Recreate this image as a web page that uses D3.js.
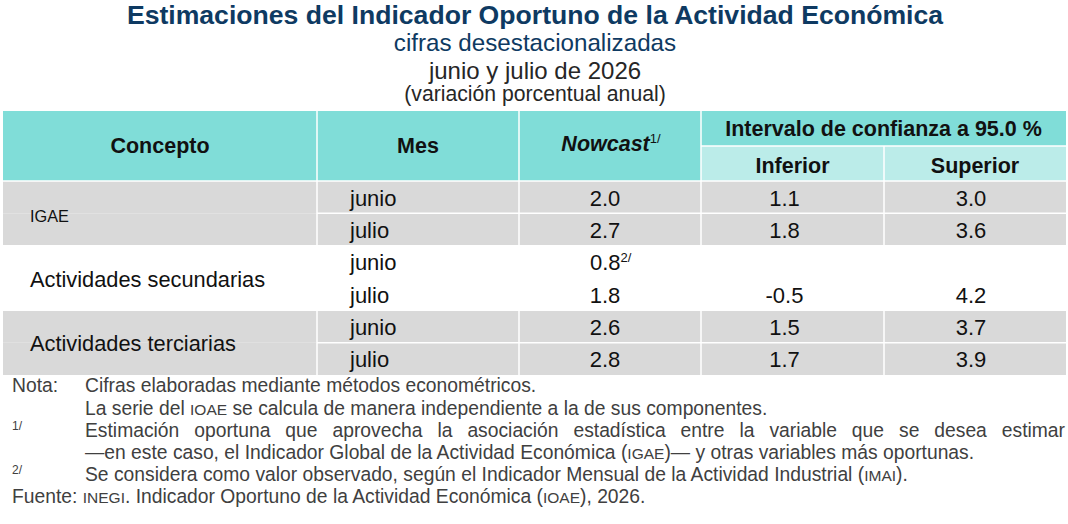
<!DOCTYPE html>
<html>
<head>
<meta charset="utf-8">
<script src="https://cdn.jsdelivr.net/npm/d3@7"></script>
<style>
  body { margin: 0; background: #fff; }
  svg { display: block; font-family: "Liberation Sans", Arial, sans-serif; }
</style>
</head>
<body>
<div id="chart"></div>
<script>
// --- data ---
const titleLines = [
  "Estimaciones del Indicador Oportuno de la Actividad Económica",
  "cifras desestacionalizadas",
  "junio y julio de 2026",
  "(variación porcentual anual)"
];
const concepts = ["IGAE", "Actividades secundarias", "Actividades terciarias"];
const months = ["junio", "julio"];
const nowcast = [2.0, 2.7, 0.8, 1.8, 2.6, 2.8];
const nowcastNote = ["", "", "2/", "", "", ""];
const lower = [1.1, 1.8, null, -0.5, 1.5, 1.7];
const upper = [3.0, 3.6, null, 4.2, 3.7, 3.9];

// --- layout ---
const W = 1068, H = 524;
const colEdges = [3, 317, 519, 701, 884, 1066];
const headTop = 111, headMid = 146, headBot = 181, tableBot = 375;
const teal = "#80ddd8", tealLight = "#bbece9", grey = "#d9d9d9";
const navy = "#0e3a62";

const svg = d3.select("#chart").append("svg")
  .attr("width", W).attr("height", H);

// titles
const titleY = [24, 51, 79, 101];
const titleSize = [26.6, 24.2, 24, 21.2];
svg.selectAll("text.title")
  .data(titleLines)
  .enter().append("text")
  .attr("class", "title")
  .attr("x", 535)
  .attr("y", (d, i) => titleY[i])
  .attr("text-anchor", "middle")
  .attr("font-size", (d, i) => titleSize[i])
  .attr("font-weight", (d, i) => i === 0 ? "bold" : "normal")
  .attr("fill", (d, i) => i < 2 ? navy : "#262626")
  .text(d => d);

// header
const head = svg.append("g");
head.append("rect").attr("x", colEdges[0]).attr("y", headTop)
  .attr("width", colEdges[5] - colEdges[0]).attr("height", headBot - headTop)
  .attr("fill", teal);
head.append("rect").attr("x", colEdges[3]).attr("y", headMid)
  .attr("width", colEdges[5] - colEdges[3]).attr("height", headBot - headMid)
  .attr("fill", tealLight);

const hx = i => (colEdges[i] + colEdges[i + 1]) / 2;
const hText = (x, y, t) => head.append("text").attr("x", x).attr("y", y)
  .attr("text-anchor", "middle").attr("font-size", 21.5).attr("font-weight", "bold")
  .attr("fill", "#111").text(t);
hText(hx(0), 153, "Concepto");
hText(hx(1), 153, "Mes");
const nc = hText(hx(2) + 1, 151, "");
nc.append("tspan").attr("font-style", "italic").text("Nowcast");
nc.append("tspan").attr("font-size", 13).attr("dy", -8).attr("font-weight", "normal").text("1/");
hText((colEdges[3] + colEdges[5]) / 2, 136, "Intervalo de confianza a 95.0 %");
hText(hx(3), 172.5, "Inferior");
hText(hx(4), 172.5, "Superior");

// rows
const rowIdx = d3.range(nowcast.length);
const y = d3.scaleBand().domain(rowIdx).range([headBot, tableBot]);
const body = svg.append("g");

body.selectAll("rect.row")
  .data(rowIdx)
  .enter().append("rect")
  .attr("x", colEdges[0]).attr("y", d => y(d))
  .attr("width", colEdges[5] - colEdges[0]).attr("height", y.bandwidth())
  .attr("fill", d => Math.floor(d / 2) === 1 ? "#fff" : grey);

// white grid lines
body.selectAll("line.h")
  .data(rowIdx.slice(1))
  .enter().append("line")
  .attr("x1", d => d % 2 === 0 ? colEdges[0] : colEdges[1]).attr("x2", colEdges[5])
  .attr("y1", d => y(d)).attr("y2", d => y(d))
  .attr("stroke", "#fff").attr("stroke-width", 1.5);
svg.append("line").attr("x1", colEdges[0]).attr("x2", colEdges[5])
  .attr("y1", headBot).attr("y2", headBot).attr("stroke", "#fff").attr("stroke-width", 1.5);
svg.append("line").attr("x1", colEdges[3]).attr("x2", colEdges[5])
  .attr("y1", headMid).attr("y2", headMid).attr("stroke", "#fff").attr("stroke-width", 1.5);
svg.selectAll("line.v")
  .data([1, 2, 3, 4])
  .enter().append("line")
  .attr("x1", d => colEdges[d]).attr("x2", d => colEdges[d])
  .attr("y1", d => d === 4 ? headMid : headTop).attr("y2", tableBot)
  .attr("stroke", "#fff").attr("stroke-width", 1.5);

// concept labels
body.selectAll("text.concept")
  .data(concepts)
  .enter().append("text")
  .attr("x", 30)
  .attr("y", (d, i) => y(i * 2) + y.bandwidth() + 8.5)
  .attr("font-size", (d, i) => i === 0 ? 16.3 : 21.8)
  .attr("fill", "#111")
  .text(d => d);

// month labels
body.selectAll("text.month")
  .data(rowIdx)
  .enter().append("text")
  .attr("x", 350)
  .attr("y", d => y(d) + y.bandwidth() / 2 + 8.5)
  .attr("font-size", 22).attr("fill", "#111")
  .text(d => months[d % 2]);

const fmt = v => v.toFixed(1);
const numCol = (vals, ci, dx) => body.selectAll(null)
  .data(rowIdx.filter(i => vals[i] !== null))
  .enter().append("text")
  .attr("x", hx(ci) + dx)
  .attr("y", d => y(d) + y.bandwidth() / 2 + 8.5)
  .attr("text-anchor", "middle")
  .attr("font-size", 22).attr("fill", "#111")
  .text(d => fmt(vals[d]));
numCol(nowcast, 2, -5).each(function(d) {
  if (nowcastNote[d]) {
    d3.select(this).attr("text-anchor", "start").attr("x", hx(2) - 20);
    d3.select(this).append("tspan").attr("font-size", 13).attr("dy", -8).text(nowcastNote[d]);
  }
});
numCol(lower, 3, -8);
numCol(upper, 4, -4);

// notes
const notes = svg.append("g").attr("font-size", 19.3).attr("fill", "#404040");
const noteY = [392, 414.5, 437, 459, 481, 503];
const addLine = (x, yy, parts) => {
  const t = notes.append("text").attr("x", x).attr("y", yy);
  parts.forEach(p => {
    const s = t.append("tspan").text(p[0]);
    if (p[1]) s.attr("font-size", 15.5);
  });
  return t;
};
addLine(12, noteY[0], [["Nota:"]]);
addLine(85, noteY[0], [["Cifras elaboradas mediante métodos econométricos."]]);
addLine(85, noteY[1], [["La serie del "], ["IOAE", 1], [" se calcula de manera independiente a la de sus componentes."]]);
notes.append("text").attr("x", 12).attr("y", noteY[2] - 7).attr("font-size", 12).text("1/");
const just = addLine(85, noteY[2], [["Estimación oportuna que aprovecha la asociación estadística entre la variable que se desea estimar"]]);
const natural = just.node().getComputedTextLength();
const gaps = just.text().split(" ").length - 1;
just.attr("word-spacing", (1065 - 85 - natural) / gaps);
addLine(85, noteY[3], [["—en este caso, el Indicador Global de la Actividad Económica ("], ["IGAE", 1], [")— y otras variables más oportunas."]]);
notes.append("text").attr("x", 12).attr("y", noteY[4] - 7).attr("font-size", 12).text("2/");
addLine(85, noteY[4], [["Se considera como valor observado, según el Indicador Mensual de la Actividad Industrial ("], ["IMAI", 1], [")."]]);
addLine(12, noteY[5], [["Fuente: "], ["INEGI", 1], [". Indicador Oportuno de la Actividad Económica ("], ["IOAE", 1], ["), 2026."]]);
</script>
</body>
</html>
